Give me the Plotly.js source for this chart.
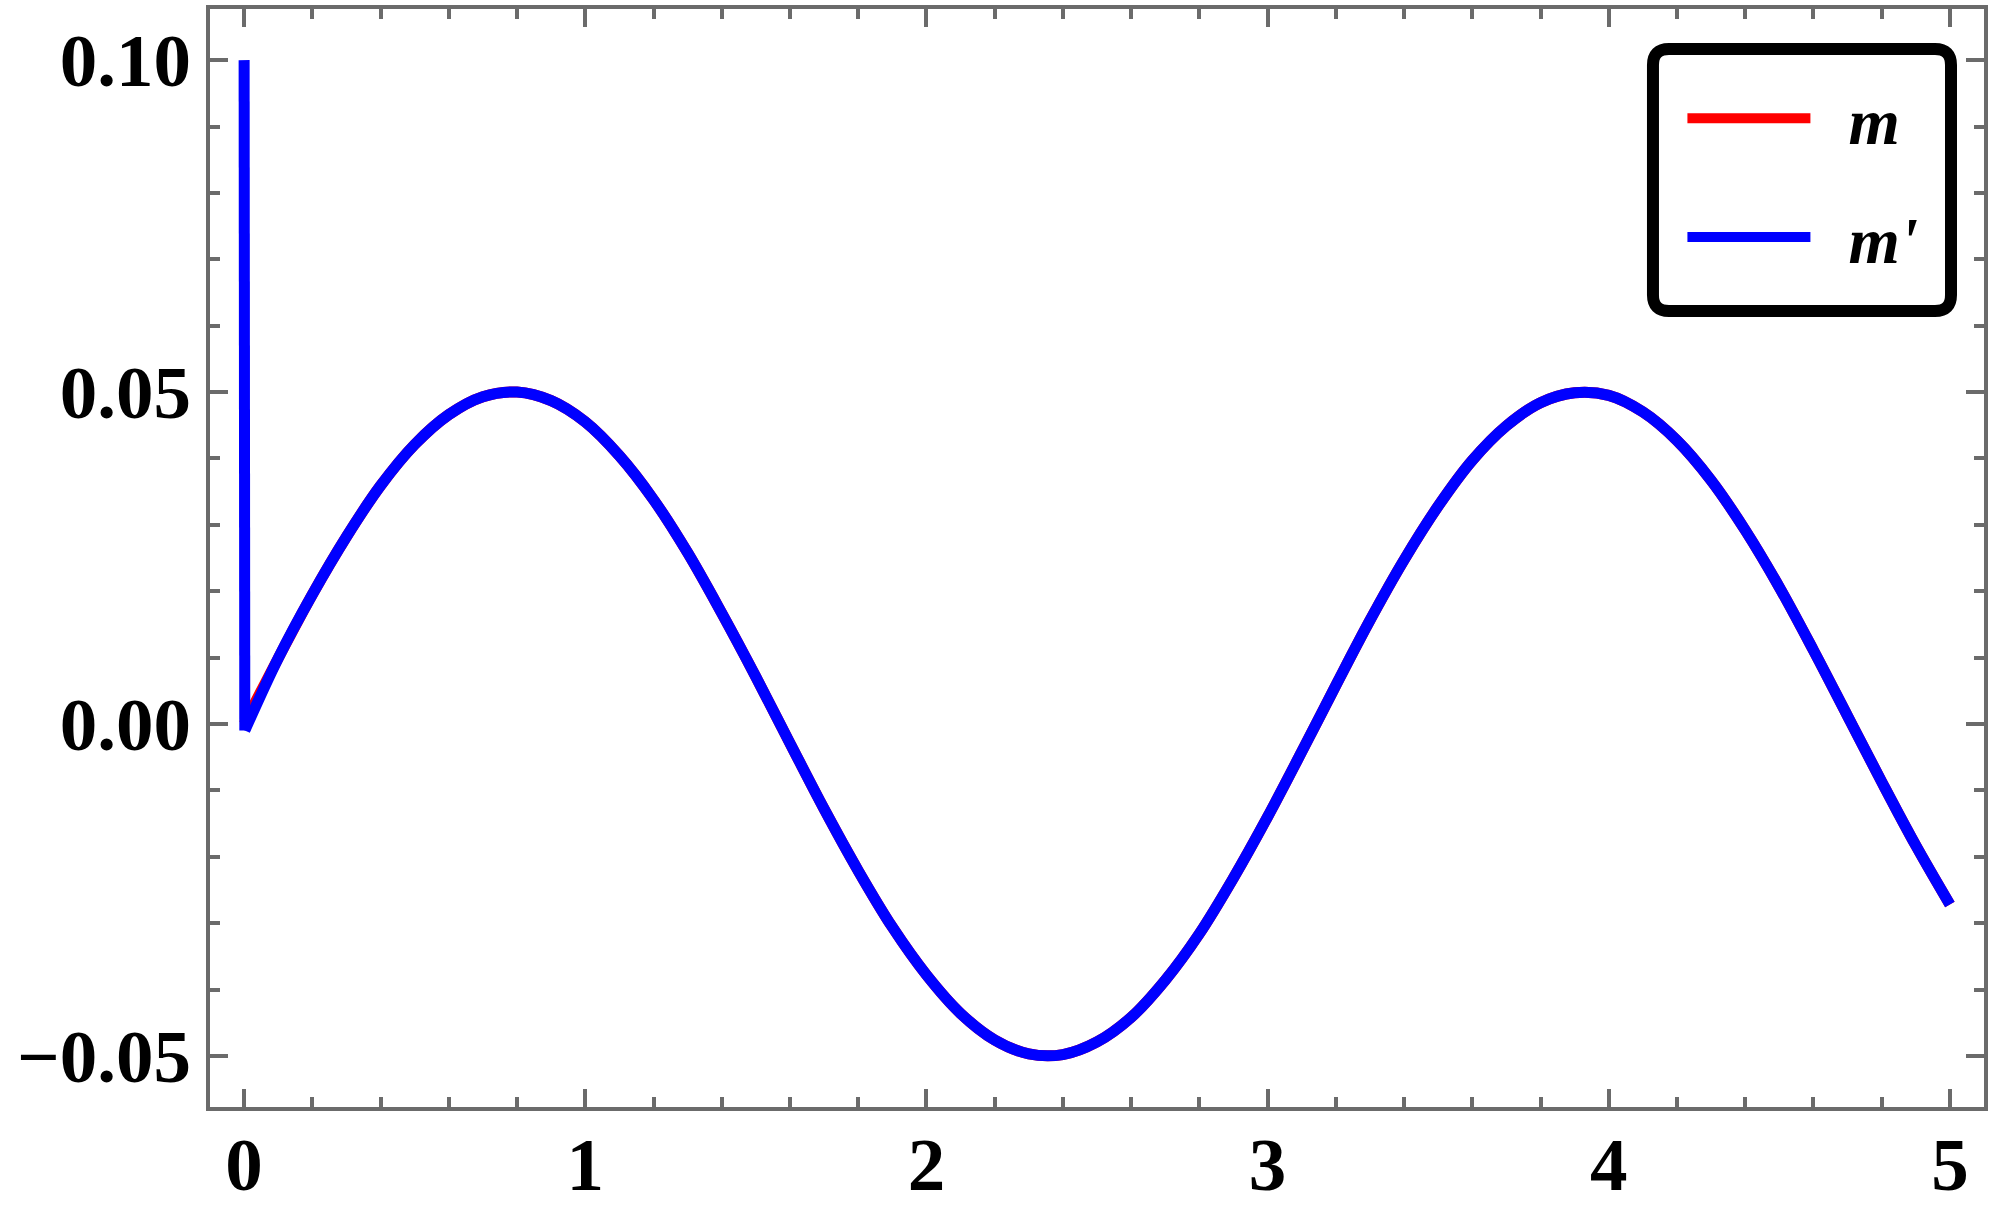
<!DOCTYPE html>
<html>
<head>
<meta charset="utf-8">
<script src="https://cdn.plot.ly/plotly-3.0.1.min.js"></script>
<style>
  body { margin: 0; background: #ffffff; }
  #chart { width: 1998px; height: 1217px; }
</style>
</head>
<body>
<div id="chart"></div>
<script>
// values, t from 0 to 5
var tVals = [0, 0.1, 0.2, 0.3, 0.4, 0.5, 0.6, 0.7, 0.8, 0.9,
    1.0, 1.1, 1.2, 1.3, 1.4, 1.5, 1.6, 1.7, 1.8, 1.9,
    2.0, 2.1, 2.2, 2.3, 2.4, 2.5, 2.6, 2.7, 2.8, 2.9,
    3.0, 3.1, 3.2, 3.3, 3.4, 3.5, 3.6, 3.7, 3.8, 3.9,
    4.0, 4.1, 4.2, 4.3, 4.4, 4.5, 4.6, 4.7, 4.8, 4.9, 5.0];
var mVals = [0, 0.0099, 0.0195, 0.0282, 0.0359, 0.0421, 0.0466, 0.0493, 0.0500, 0.0487,
    0.0455, 0.0404, 0.0338, 0.0258, 0.0167, 0.0071, -0.0029, -0.0128, -0.0221, -0.0306,
    -0.0378, -0.0436, -0.0476, -0.0497, -0.0498, -0.0479, -0.0442, -0.0386, -0.0316, -0.0232,
    -0.0140, -0.0042, 0.0058, 0.0156, 0.0247, 0.0328, 0.0397, 0.0449, 0.0484, 0.0499,
    0.0495, 0.0470, 0.0427, 0.0367, 0.0292, 0.0206, 0.0111, 0.0012, -0.0087, -0.0183, -0.0272];

// m' drops from 0.1 to ~0 right at t = 0, then runs on top of m
var spikeT = [0, 0.0005, 0.002];
var spikeVals = [0.1, 0.064, -0.001];

// en space in front pushes the label off the legend line, nbsp behind keeps the prime unclipped
var seriesNames = ['\u2002m\u00a0\u00a0', "\u2002m'\u00a0\u00a0"];
var seriesColors = ['#ff0000', '#0000ff'];

var mPrimeT = [spikeT[2]].concat(tVals.slice(1));
var mPrimeVals = [spikeVals[2]].concat(mVals.slice(1));

var trace1 = {
    x: tVals,
    y: mVals,
    type: 'scatter',
    mode: 'lines',
    name: seriesNames[0],
    legendgroup: 'a',
    line: { color: seriesColors[0], width: 11, shape: 'spline' }
};

var trace2 = {
    x: mPrimeT,
    y: mPrimeVals,
    type: 'scatter',
    mode: 'lines',
    name: seriesNames[1],
    legendgroup: 'b',
    line: { color: seriesColors[1], width: 11, shape: 'spline' }
};

// the spike of m', drawn straight
var trace2spike = {
    x: spikeT,
    y: spikeVals,
    type: 'scatter',
    mode: 'lines',
    showlegend: false,
    legendgroup: 'b',
    line: { color: seriesColors[1], width: 11, shape: 'linear' }
};

var frameColor = '#6b6b6b';
var tickFont = { family: 'Liberation Serif', size: 75, color: '#000000', weight: 'bold' };

// rounded legend frame, in paper coordinates
var bx0 = 0.8134, bx1 = 0.9814, by0 = 0.7250, by1 = 0.9636;
var rx = 16 / 1774, ry = 16 / 1098;
var boxPath = 'M' + (bx0 + rx) + ',' + by1 +
    ' L' + (bx1 - rx) + ',' + by1 +
    ' Q' + bx1 + ',' + by1 + ' ' + bx1 + ',' + (by1 - ry) +
    ' L' + bx1 + ',' + (by0 + ry) +
    ' Q' + bx1 + ',' + by0 + ' ' + (bx1 - rx) + ',' + by0 +
    ' L' + (bx0 + rx) + ',' + by0 +
    ' Q' + bx0 + ',' + by0 + ' ' + bx0 + ',' + (by0 + ry) +
    ' L' + bx0 + ',' + (by1 - ry) +
    ' Q' + bx0 + ',' + by1 + ' ' + (bx0 + rx) + ',' + by1 + ' Z';

var layout = {
    width: 1998,
    height: 1217,
    margin: { l: 210, r: 14, t: 9, b: 110, pad: 0 },
    paper_bgcolor: '#ffffff',
    plot_bgcolor: '#ffffff',
    showlegend: true,
    xaxis: {
        range: [-0.1, 5.1],
        tickmode: 'linear',
        tick0: 0,
        dtick: 1,
        ticks: 'inside',
        ticklen: 18,
        tickwidth: 4,
        tickcolor: frameColor,
        minor: { dtick: 0.2, tick0: 0, ticks: 'inside', ticklen: 10, tickwidth: 4, tickcolor: frameColor, showgrid: false },
        showline: true,
        linecolor: frameColor,
        linewidth: 4,
        mirror: 'ticks',
        showgrid: false,
        zeroline: false,
        tickfont: tickFont,
        ticklabelstandoff: -11
    },
    yaxis: {
        range: [-0.0577, 0.1077],
        tickmode: 'linear',
        tick0: 0,
        dtick: 0.05,
        tickformat: '.2f',
        ticks: 'inside',
        ticklen: 18,
        tickwidth: 4,
        tickcolor: frameColor,
        minor: { dtick: 0.01, tick0: 0, ticks: 'inside', ticklen: 10, tickwidth: 4, tickcolor: frameColor, showgrid: false },
        showline: true,
        linecolor: frameColor,
        linewidth: 4,
        mirror: 'ticks',
        showgrid: false,
        zeroline: false,
        tickfont: tickFont,
        ticklabelstandoff: 0
    },
    legend: {
        x: 0.83,
        y: 0.9455,
        xanchor: 'left',
        yanchor: 'top',
        bgcolor: 'rgba(0,0,0,0)',
        borderwidth: 0,
        itemwidth: 123,
        tracegroupgap: 30,
        font: { family: 'Liberation Serif', size: 66, color: '#000000', weight: 'bold', style: 'italic' }
    },
    shapes: [{
        type: 'path',
        xref: 'paper',
        yref: 'paper',
        path: boxPath,
        line: { color: '#000000', width: 12 },
        fillcolor: 'rgba(0,0,0,0)',
        layer: 'above'
    }]
};

var data = [trace1, trace2, trace2spike];

Plotly.newPlot('chart', data, layout, { staticPlot: true });
</script>
</body>
</html>
